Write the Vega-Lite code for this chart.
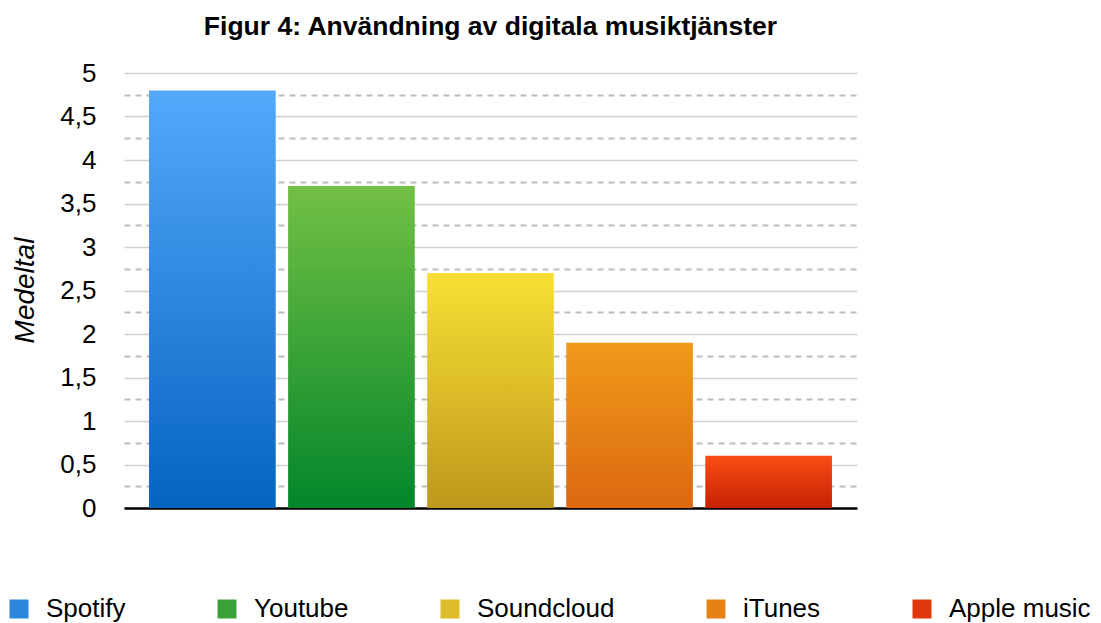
{
  "$schema": "https://vega.github.io/schema/vega-lite/v6.json",
  "width": 733,
  "height": 435,
  "autosize": "none",
  "padding": {"left": 124, "top": 73, "right": 244, "bottom": 115},
  "background": "white",
  "title": {
    "text": "Figur 4: Användning av digitala musiktjänster",
    "anchor": "middle",
    "font": "Liberation Sans",
    "fontSize": 26.5,
    "fontWeight": "bold",
    "color": "black",
    "offset": 20
  },
  "data": {
    "values": [
      {"service": "Spotify", "medeltal": 4.8},
      {"service": "Youtube", "medeltal": 3.7},
      {"service": "Soundcloud", "medeltal": 2.7},
      {"service": "iTunes", "medeltal": 1.9},
      {"service": "Apple music", "medeltal": 0.6}
    ]
  },
  "encoding": {
    "x": {
      "field": "service",
      "type": "nominal",
      "sort": null,
      "scale": {"paddingInner": 0.089, "paddingOuter": 0.18},
      "axis": {
        "title": null,
        "labels": false,
        "ticks": false,
        "domainColor": "black",
        "domainWidth": 2.5,
        "grid": false
      }
    },
    "y": {
      "field": "medeltal",
      "type": "quantitative",
      "scale": {"domain": [0, 5], "nice": false},
      "axis": {
        "title": "Medeltal",
        "titleFont": "Liberation Sans",
        "titleFontSize": 28,
        "titleFontStyle": "italic",
        "titleFontWeight": "normal",
        "titleColor": "black",
        "titleX": -99,
        "titleY": 217,
        "titleAngle": -90,
        "titleAlign": "center",
        "titleBaseline": "middle",
        "values": [0, 0.25, 0.5, 0.75, 1, 1.25, 1.5, 1.75, 2, 2.25, 2.5, 2.75, 3, 3.25, 3.5, 3.75, 4, 4.25, 4.5, 4.75, 5],
        "labelExpr": "datum.value * 2 != floor(datum.value * 2) ? '' : replace(format(datum.value, '.1~f'), '.', ',')",
        "labelFont": "Liberation Sans",
        "labelFontSize": 26,
        "labelColor": "black",
        "labelPadding": 28,
        "labelOverlap": false,
        "ticks": false,
        "domain": false,
        "grid": true,
        "gridColor": {"condition": {"test": "datum.value * 2 != floor(datum.value * 2)", "value": "#bdbdbd"}, "value": "#cfcfcf"},
        "gridWidth": {"condition": {"test": "datum.value * 2 != floor(datum.value * 2)", "value": 2.2}, "value": 1.4},
        "gridDash": {"condition": {"test": "datum.value * 2 != floor(datum.value * 2)", "value": [6, 5]}, "value": []}
      }
    }
  },
  "layer": [
    {
      "mark": {
        "type": "bar",
        "strokeWidth": 0,
        "fill": {"expr": "datum.service === 'Spotify' ? {gradient: 'linear', x1: 0, y1: 0, x2: 0, y2: 1, stops: [{offset: 0, color: '#54a9fb'}, {offset: 1, color: '#0563c1'}]} : datum.service === 'Youtube' ? {gradient: 'linear', x1: 0, y1: 0, x2: 0, y2: 1, stops: [{offset: 0, color: '#72c044'}, {offset: 1, color: '#03862b'}]} : datum.service === 'Soundcloud' ? {gradient: 'linear', x1: 0, y1: 0, x2: 0, y2: 1, stops: [{offset: 0, color: '#f9e034'}, {offset: 1, color: '#bd981c'}]} : datum.service === 'iTunes' ? {gradient: 'linear', x1: 0, y1: 0, x2: 0, y2: 1, stops: [{offset: 0, color: '#f09a1b'}, {offset: 1, color: '#dc6810'}]} : {gradient: 'linear', x1: 0, y1: 0, x2: 0, y2: 1, stops: [{offset: 0, color: '#fb4c15'}, {offset: 1, color: '#c42205'}]}"}
      }
    },
    {
      "mark": {"type": "bar", "opacity": 0},
      "encoding": {
        "color": {
          "field": "service",
          "type": "nominal",
          "sort": null,
          "scale": {
            "domain": ["Spotify", "Youtube", "Soundcloud", "iTunes", "Apple music"],
            "range": ["#2b86de", "#3aa238", "#dcbc28", "#e68116", "#e0380c"]
          },
          "legend": {
            "title": null,
            "orient": "none",
            "direction": "horizontal",
            "columns": 5,
            "legendX": -118,
            "legendY": 523,
            "symbolType": "square",
            "symbolSize": 360,
            "symbolStrokeWidth": 0,
            "symbolOpacity": 1,
            "labelOffset": 14,
            "columnPadding": 88,
            "labelFont": "Liberation Sans",
            "labelFontSize": 26,
            "labelColor": "black",
            "labelLimit": 300
          }
        }
      }
    }
  ],
  "config": {
    "view": {"stroke": null},
    "font": "Liberation Sans"
  }
}
